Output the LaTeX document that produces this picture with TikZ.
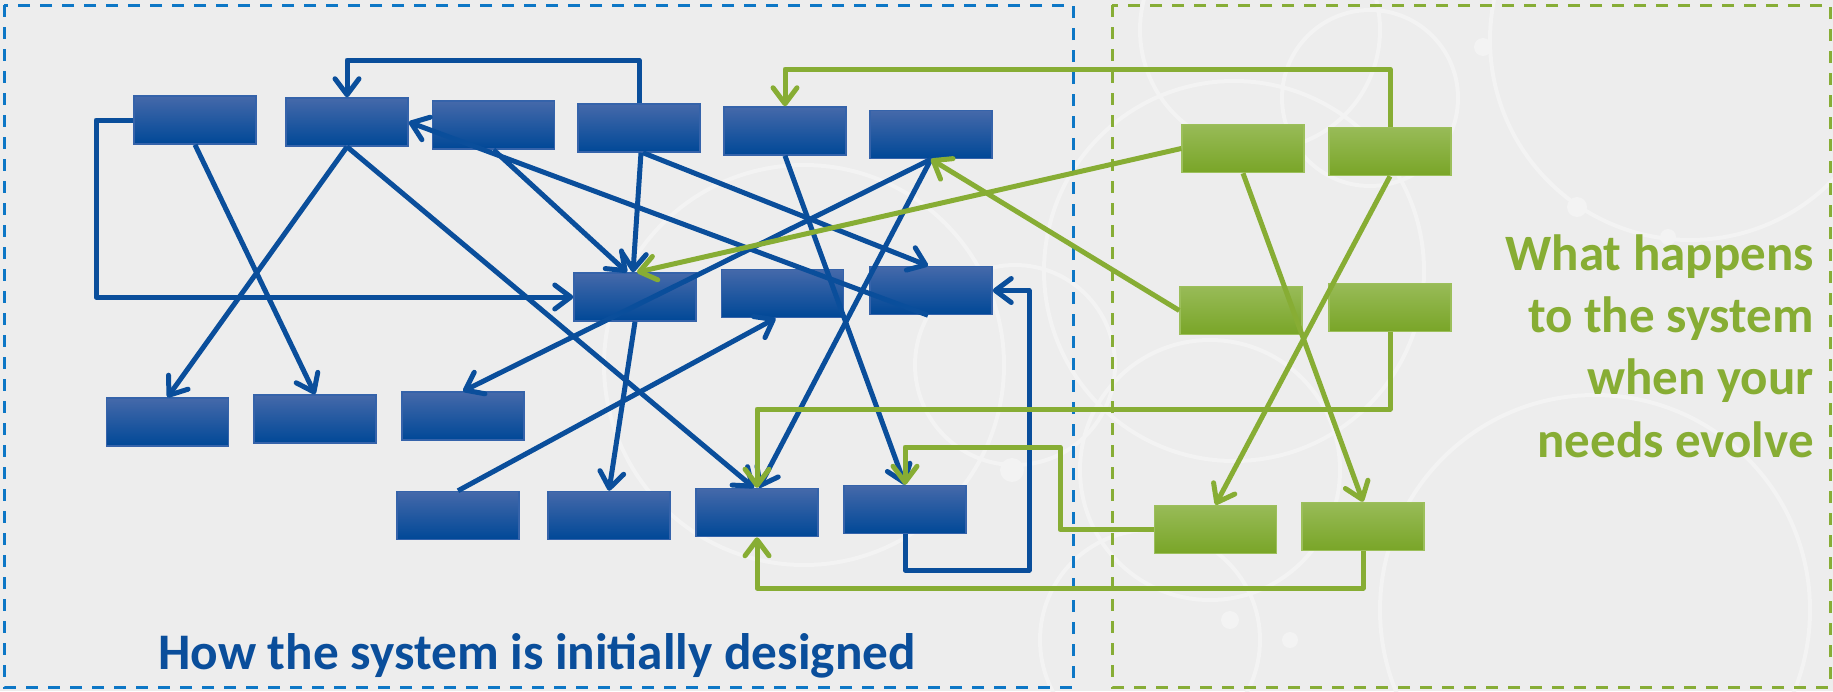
\documentclass[tikz,border=0pt]{standalone}
\usepackage{fontspec}
\setmainfont{Carlito}
\usetikzlibrary{arrows.meta}
\definecolor{bgGray}{HTML}{EDEDED}
\definecolor{bgCircle}{HTML}{F3F3F3}
\definecolor{bLine}{HTML}{0A4E9B}
\definecolor{bTop}{HTML}{4569AA}
\definecolor{bMid}{HTML}{004B9B}
\definecolor{bBot}{HTML}{004897}
\definecolor{bEdge}{HTML}{3563AA}
\definecolor{bDash}{HTML}{0D77C6}
\definecolor{gLine}{HTML}{87AD34}
\definecolor{gTop}{HTML}{98BB57}
\definecolor{gMid}{HTML}{87B033}
\definecolor{gBot}{HTML}{79A527}
\definecolor{gEdge}{HTML}{9CBF5B}
\definecolor{gDash}{HTML}{87AD36}
\begin{document}
\begin{tikzpicture}[x=1pt,y=-1pt,
  bluebox/.style={rectangle, minimum width=122pt, minimum height=48pt, inner sep=0pt,
    draw=bEdge, line width=1.5pt, top color=bTop, middle color=bMid, bottom color=bBot},
  greenbox/.style={rectangle, minimum width=122pt, minimum height=48pt, inner sep=0pt,
    draw=gEdge, line width=1.5pt, top color=gTop, middle color=gMid, bottom color=gBot},
  barrow/.style={draw=bLine, line width=5pt, line join=round,
    -{Straight Barb[length=16pt,width=24pt,round]}},
  garrow/.style={draw=gLine, line width=5pt, line join=round,
    -{Straight Barb[length=16pt,width=24pt,round]}},
  frameline/.style={line width=3pt, dash pattern=on 12pt off 10pt},
  bgc/.style={draw=bgCircle, line width=4pt}
]
\useasboundingbox (0,0) rectangle (1833,691);
\fill[bgGray] (0,0) rectangle (1833,691);

% faint background pattern
\begin{scope}
\clip (0,0) rectangle (1833,691);
\draw[bgc] (804,365) circle[radius=200pt];
\draw[bgc] (1015,365) circle[radius=100pt];
\draw[bgc] (1370,98) circle[radius=88pt];
\draw[bgc] (1690,40) circle[radius=200pt];
\draw[bgc] (1595,610) circle[radius=215pt];
\draw[bgc] (1234,271) circle[radius=190pt];
\draw[bgc] (1210,470) circle[radius=130pt];
\draw[bgc] (1150,640) circle[radius=110pt];
\draw[bgc] (1260,30) circle[radius=120pt];
\fill[bgCircle] (1483,47) circle[radius=9pt];
\fill[bgCircle] (1577,207) circle[radius=10pt];
\fill[bgCircle] (1668,237) circle[radius=8pt];
\fill[bgCircle] (1230,620) circle[radius=9pt];
\fill[bgCircle] (1290,640) circle[radius=8pt];
\fill[bgCircle] (1012,470) circle[radius=12pt];
\end{scope}

% frames
\draw[frameline, draw=bDash] (4,5) rectangle (1073,687);
\draw[frameline, draw=gDash] (1112,5) rectangle (1830,687);

% blue boxes
\node[bluebox] (A1) at (195,120) {};
\node[bluebox] (A2) at (347,122) {};
\node[bluebox] (A3) at (493.5,125) {};
\node[bluebox] (A4) at (639,128) {};
\node[bluebox] (A5) at (785,131) {};
\node[bluebox] (A6) at (931,134.5) {};
\node[bluebox] (B1) at (635,297) {};
\node[bluebox] (B2) at (782.5,293.5) {};
\node[bluebox] (B3) at (931,290.5) {};
\node[bluebox] (C1) at (167.5,422) {};
\node[bluebox] (C2) at (315,419) {};
\node[bluebox] (C3) at (463,416) {};
\node[bluebox] (D1) at (458,515.5) {};
\node[bluebox] (D2) at (609,515.5) {};
\node[bluebox] (D3) at (757,512.5) {};
\node[bluebox] (D4) at (905,509.5) {};

% green boxes
\node[greenbox] (G1) at (1243,148.5) {};
\node[greenbox] (G2) at (1390,151.5) {};
\node[greenbox] (G3) at (1241,310.5) {};
\node[greenbox] (G4) at (1390,307.5) {};
\node[greenbox] (G5) at (1215.5,529.5) {};
\node[greenbox] (G6) at (1363,526.5) {};

% helper coordinates
\coordinate (yTop) at (0,60);
\coordinate (xL) at (96,0);
\coordinate (yLow) at (0,570);
\coordinate (xR) at (1029,0);
\coordinate (yGT) at (0,69);
\coordinate (yG1) at (0,409);
\coordinate (yG2) at (0,447);
\coordinate (xG) at (1060,0);
\coordinate (yG3) at (0,588);

% blue connectors
\draw[barrow] (A4.north) -- (A4.north |- yTop) -- (A2.north |- yTop) -- (A2.north);
\draw[barrow] (A1.west) -- (xL |- A1.west) -- (xL |- B1.west) -- (B1.west);
\draw[barrow] (A1.south) -- (C2.north);
\draw[barrow] (A2.south) -- (C1.north);
\draw[barrow] (A2.south) -- ([xshift=-3pt]D3.north);
\draw[barrow] (A3.south) -- ([xshift=-8pt]B1.north);
\draw[barrow] ([xshift=-3pt]B3.south) -- (A2.east);
\draw[barrow] ([xshift=2pt]A4.south) -- ([xshift=-2pt]B1.north);
\draw[barrow] ([xshift=4pt]A4.south) -- ([xshift=-3pt]B3.north);
\draw[barrow] (A5.south) -- (D4.north);
\draw[barrow] (A6.south) -- (C3.north);
\draw[barrow] (A6.south) -- ([xshift=2pt]D3.north);
\draw[barrow] (B1.south) -- (D2.north);
\draw[barrow] (D1.north) -- ([xshift=-7pt]B2.south);
\draw[barrow] (D4.south) -- (D4.south |- yLow) -- (xR |- yLow) -- (xR |- B3.east) -- (B3.east);

% green connectors
\draw[garrow] (G2.north) -- (G2.north |- yGT) -- (A5.north |- yGT) -- (A5.north);
\draw[garrow] (G1.west) -- ([xshift=2pt]B1.north);
\draw[garrow] (G3.west) -- (A6.south);
\draw[garrow] (G1.south) -- (G6.north);
\draw[garrow] (G2.south) -- (G5.north);
\draw[garrow] (G4.south) -- (G4.south |- yG1) -- (D3.north |- yG1) -- (D3.north);
\draw[garrow] (G5.west) -- (xG |- G5.west) -- (xG |- yG2) -- (D4.north |- yG2) -- (D4.north);
\draw[garrow] (G6.south) -- (G6.south |- yG3) -- (D3.south |- yG3) -- (D3.south);

% texts
\node[anchor=base west, inner sep=0pt, text=bLine, font=\fontsize{51.3}{60}\selectfont\bfseries]
  (title) at (158,669) {How the system is initially designed};
\node[anchor=base east, inner sep=0pt, align=right, text=gLine,
  font=\fontsize{51}{62.3}\selectfont\bfseries]
  (gtext) at (1814,457) {What happens\\to the system\\when your\\needs evolve};
\end{tikzpicture}
\end{document}
